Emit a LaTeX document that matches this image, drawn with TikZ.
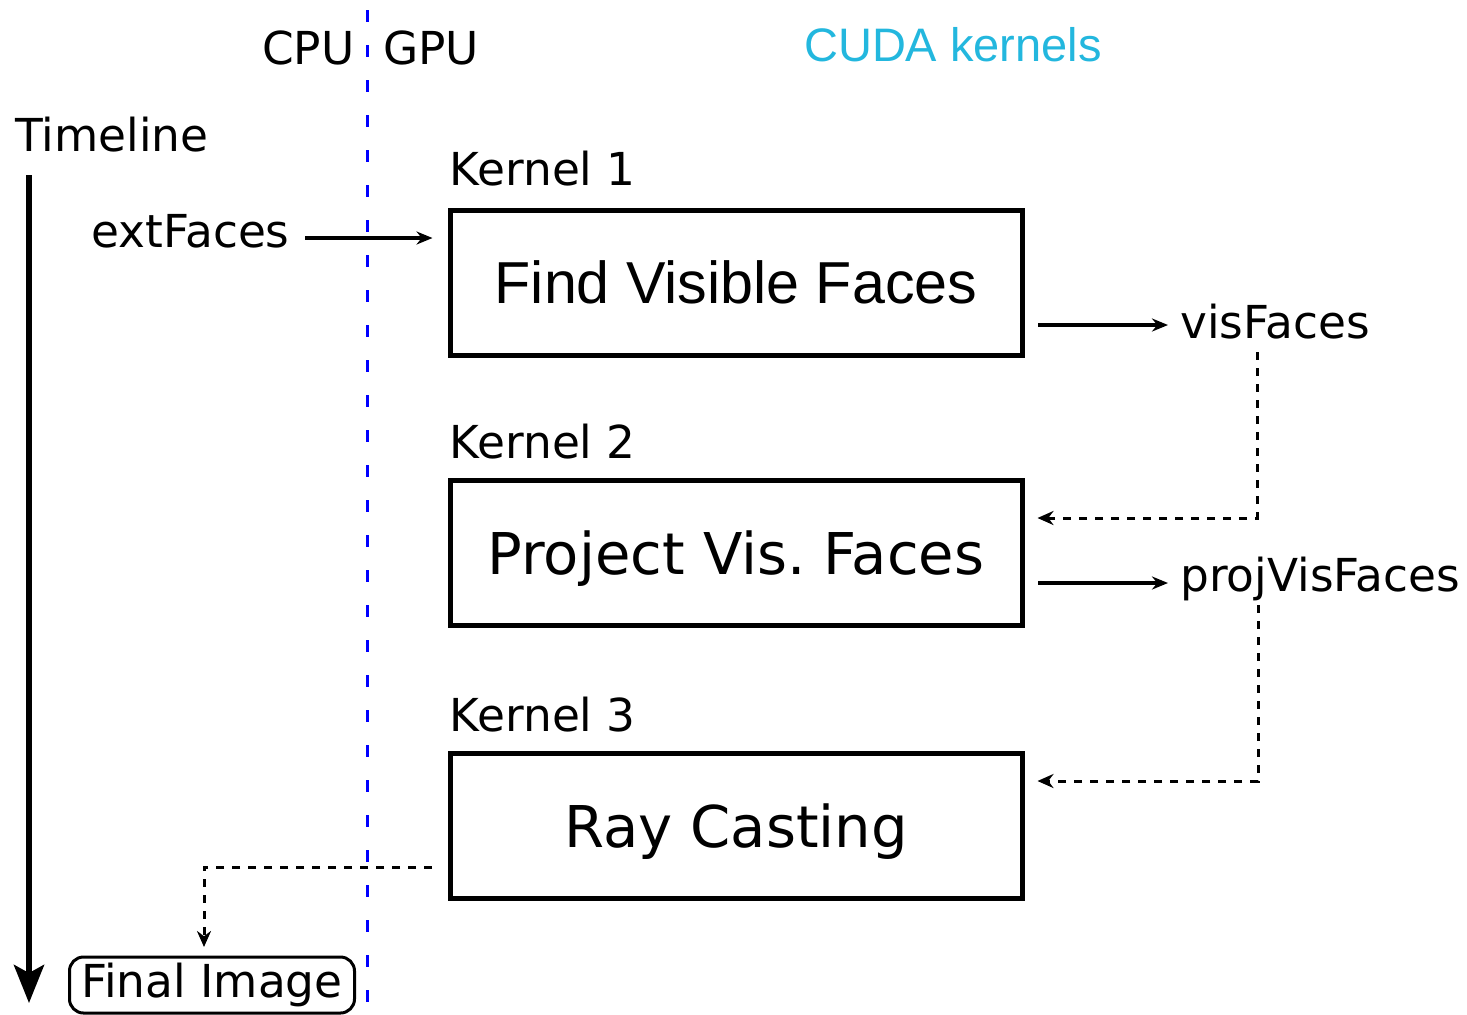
\documentclass[tikz,border=0pt]{standalone}
\usepackage{fontspec}
\setmainfont{DejaVu Sans}
\newfontfamily\helvfont{Liberation Sans}
\usepackage{tikz}
\usetikzlibrary{arrows.meta,positioning,calc}
\definecolor{cudacyan}{RGB}{35,183,222}
\frenchspacing
\newcommand{\nodepth}[1]{\raisebox{0pt}[\height][0pt]{#1}}
\tikzset{
    kernelbox/.style={
        draw,
        line width=2.5pt,
        minimum width=286pt,
        minimum height=72.5pt,
        inner sep=0pt,
        font=\fontsize{28.8}{34}\selectfont
    },
    tlabel/.style={
        inner sep=0pt,
        font=\fontsize{22.7}{27}\selectfont
    },
    % solid data arrows
    flowarrow/.style={
        line width=2pt,
        -{Stealth[length=8pt, width=6.5pt]}
    },
    % dashed hand-over arrows
    dasharrow/.style={
        line width=1.5pt,
        dash pattern=on 4pt off 4pt,
        -{Stealth[length=8pt, width=7pt]}
    },
    timearrow/.style={
        line width=3pt,
        -{Stealth[length=19pt, width=15pt, inset=4pt]}
    },
    divider/.style={
        blue,
        line width=1.5pt,
        dash pattern=on 6pt off 11.5pt
    }
}

\begin{document}
\begin{tikzpicture}[x=0.5pt,y=-0.5pt]
\useasboundingbox (0,0) rectangle (1467,1014);

% kernels
\node[kernelbox] (box1) at (736,282.5) {\helvfont\fontsize{29.6}{35}\selectfont Find Visible Faces};
\node[kernelbox] (box2) at (736,553) {\nodepth{Project Vis. Faces}};
\node[kernelbox] (box3) at (736,826) {\nodepth{Ray Casting}};

\node[tlabel,anchor=base west] (k1) at ($(box1.north west)+(2,-22)$) {Kernel 1};
\node[tlabel,anchor=base west] (k2) at ($(box2.north west)+(2,-20)$) {Kernel 2};
\node[tlabel,anchor=base west] (k3) at ($(box3.north west)+(2,-20)$) {Kernel 3};

% headers
\node[tlabel,anchor=base east] (cpu) at (355,64) {CPU};
\node[tlabel,anchor=base west] (gpu) at (383,64) {GPU};
\node[inner sep=0pt,anchor=base,text=cudacyan,font=\helvfont\fontsize{23.5}{28}\selectfont] (cuda) at (953,61) {CUDA kernels};
\node[tlabel,anchor=base west] (tl) at (15,151) {Timeline};

% data
\node[tlabel,anchor=base east] (extf) at (290,247) {extFaces};
\node[tlabel,anchor=base west] (visf) at (1180,338) {visFaces};
\node[tlabel,anchor=base west] (projf) at (1180,591) {projVisFaces};
\node[draw,line width=1.5pt,rounded corners=7pt,minimum width=142.5pt,minimum height=28pt,inner sep=0pt,
      font=\fontsize{22.7}{27}\selectfont] (final) at (212,985) {Final Image};

\path
    (29,175) coordinate (t0)
    (29,1003) coordinate (t1)
    (305,238) coordinate (e0)
    (1038,325) coordinate (v0)
    (1038,583) coordinate (p0)
    (1257,352) coordinate (d1)
    (1258,605) coordinate (d2)
    (432,867) coordinate (d3)
    (204,947) coordinate (d3end)
    ;

% timeline
\draw[timearrow] (t0) -- (t1);

% arrows
\draw[flowarrow,shorten >=7.5pt] (e0) -- (e0 -| box1.west);
\draw[flowarrow,shorten >=6pt] (v0) -- (v0 -| visf.west);
\draw[flowarrow,shorten >=6pt] (p0) -- (p0 -| projf.west);

\draw[dasharrow] (d1) |- ($(box2.east)+(13,-35)$);
\draw[dasharrow] (d2) |- ($(box3.east)+(13,-45)$);
\draw[dasharrow] (d3) -| (d3end);

% CPU | GPU
\draw[divider] (367,10) -- (367,1014);
\end{tikzpicture}
\end{document}
